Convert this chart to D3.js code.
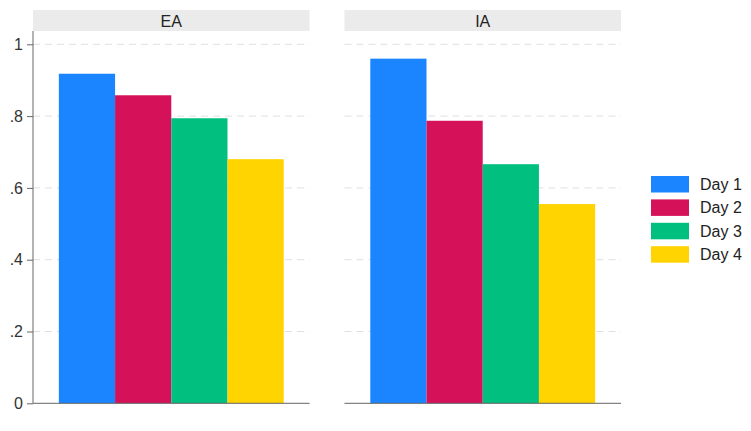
<!DOCTYPE html>
<html>
<head>
<meta charset="utf-8">
<script src="https://cdn.jsdelivr.net/npm/d3@7"></script>
<style>
  body { margin: 0; background: #fff; }
  svg { display: block; }
  text { font-family: "Liberation Sans", Arial, sans-serif; }
</style>
</head>
<body>
<svg id="chart" width="751" height="431"></svg>
<script>
const panels = ["EA", "IA"];
const days = ["Day 1", "Day 2", "Day 3", "Day 4"];
const valuesEA = [0.918, 0.858, 0.794, 0.680];
const valuesIA = [0.960, 0.787, 0.666, 0.555];
const yTicks = [0, 0.2, 0.4, 0.6, 0.8, 1];
const yTickLabels = ["0", ".2", ".4", ".6", ".8", "1"];
const colors = ["#1a85ff", "#d41159", "#00bf7f", "#ffd400"];

const seriesByPanel = { EA: valuesEA, IA: valuesIA };

const svg = d3.select("#chart");
const plotTop = 31, plotBottom = 403.3;
const stripTop = 10;
const FS = 16;

const y = d3.scaleLinear().domain([0, 1]).range([plotBottom, 44.3]);

const panelX = d3.scaleBand().domain(panels).range([33, 621]).paddingInner(0.112).paddingOuter(0);
const color = d3.scaleOrdinal().domain(days).range(colors);

panels.forEach((p, i) => {
  const x0 = panelX(p);
  const pw = panelX.bandwidth();
  const g = svg.append("g").attr("transform", `translate(${x0},0)`);

  // strip
  g.append("rect").attr("x", 0).attr("y", stripTop).attr("width", pw).attr("height", plotTop - stripTop)
    .attr("fill", "#ebebeb");
  g.append("text").attr("x", pw / 2).attr("y", stripTop + 16.5).attr("text-anchor", "middle")
    .attr("font-size", FS).attr("fill", "#222").text(p);

  // gridlines
  g.selectAll("line.grid").data(yTicks.filter(t => t > 0)).join("line")
    .attr("class", "grid")
    .attr("x1", 0).attr("x2", pw)
    .attr("y1", d => y(d)).attr("y2", d => y(d))
    .attr("stroke", "#e0e0e0").attr("stroke-width", 1).attr("stroke-dasharray", "7,5");

  // bars
  const x = d3.scaleBand().domain(days).range([0, pw]).paddingInner(0).paddingOuter(0.46);
  g.selectAll("rect.bar").data(seriesByPanel[p].map((v, j) => ({ day: days[j], v }))).join("rect")
    .attr("class", "bar")
    .attr("x", d => x(d.day)).attr("width", x.bandwidth())
    .attr("y", d => y(d.v)).attr("height", d => y(0) - y(d.v))
    .attr("fill", d => color(d.day));

  // x axis line
  g.append("line").attr("x1", 0).attr("x2", pw).attr("y1", y(0)).attr("y2", y(0))
    .attr("stroke", "#666").attr("stroke-width", 1);

  if (i === 0) {
    const yAxis = d3.axisLeft(y).tickValues(yTicks)
      .tickFormat((d, k) => yTickLabels[k]).tickSize(6).tickPadding(4);
    const ag = g.append("g").call(yAxis);
    ag.select(".domain").remove();
    ag.selectAll(".tick line").attr("stroke", "#666");
    ag.selectAll(".tick text").attr("font-size", FS).attr("fill", "#333")
      .style("font-family", "'Liberation Sans', Arial, sans-serif");
    g.append("line").attr("x1", 0).attr("x2", 0).attr("y1", plotTop).attr("y2", y(0))
      .attr("stroke", "#666").attr("stroke-width", 1);
  }
});

// legend
const legend = svg.append("g").attr("transform", "translate(651,176)");
days.forEach((d, i) => {
  const lg = legend.append("g").attr("transform", `translate(0,${i * 23.4})`);
  lg.append("rect").attr("x", 0).attr("y", 0).attr("width", 38).attr("height", 16.5)
    .attr("fill", color(d));
  lg.append("text").attr("x", 49).attr("y", 14).attr("font-size", FS).attr("fill", "#222").text(d);
});
</script>
</body>
</html>
